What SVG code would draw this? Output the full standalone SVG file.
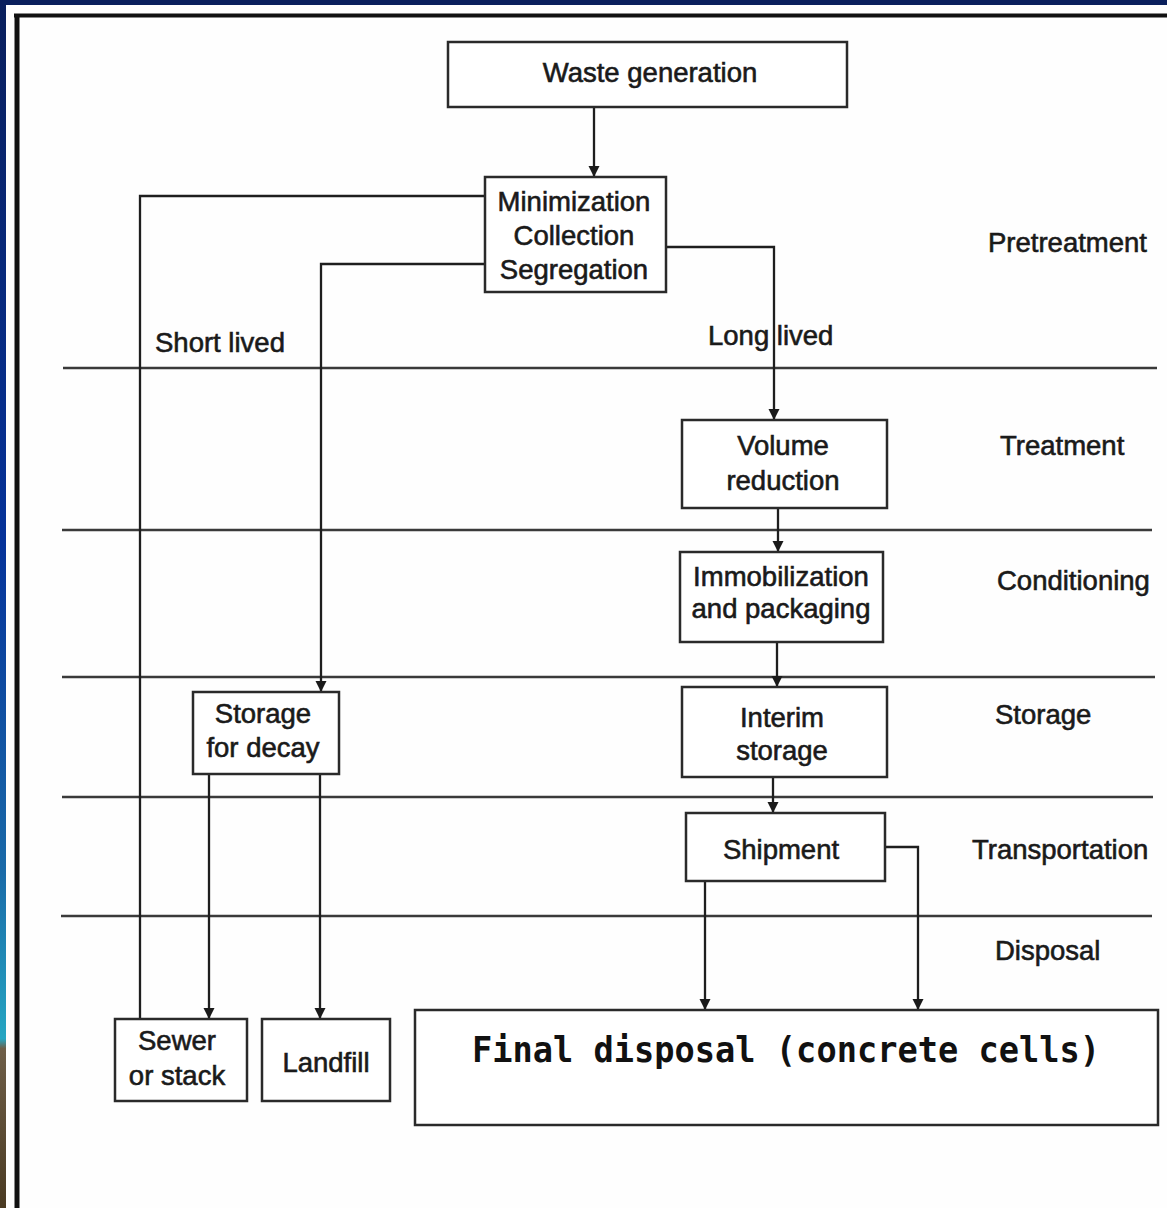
<svg xmlns="http://www.w3.org/2000/svg" width="1167" height="1208" viewBox="0 0 1167 1208">
<defs>
<linearGradient id="strip" x1="0" y1="0" x2="0" y2="1">
<stop offset="0" stop-color="#0a1f5c"/>
<stop offset="0.45" stop-color="#06339a"/>
<stop offset="0.72" stop-color="#1a6aa8"/>
<stop offset="0.86" stop-color="#26a6c2"/>
<stop offset="0.868" stop-color="#6e5e48"/>
<stop offset="1" stop-color="#4a3a22"/>
</linearGradient>
<marker id="ah" markerUnits="userSpaceOnUse" markerWidth="13" markerHeight="13" refX="11" refY="5.5" orient="auto">
<path d="M0,0 L11,5.5 L0,11 z" fill="#1a1a1a"/>
</marker>
<style>
.bx{fill:#fff;stroke:#2a2a2a;stroke-width:2.5}
.t{font-family:"Liberation Sans",Arial,sans-serif;font-size:27.5px;fill:#1a1a1a;stroke:#1a1a1a;stroke-width:0.6}
.c{text-anchor:middle}
.cn{fill:none;stroke:#1e1e1e;stroke-width:2.3}
.dv{stroke:#3a3a3a;stroke-width:2.5}
.fd{font-family:"DejaVu Sans Mono",monospace;font-weight:bold;font-size:35px;fill:#111}
</style>
</defs>
<rect x="0" y="0" width="1167" height="1208" fill="#fefefe"/>
<rect x="0" y="0" width="1167" height="5" fill="#0a1f5c"/>
<rect x="0" y="0" width="6" height="1208" fill="url(#strip)"/>
<g id="frame">
<line x1="14" y1="15.5" x2="1167" y2="15.5" stroke="#111" stroke-width="4"/>
<line x1="17" y1="14" x2="17" y2="1208" stroke="#111" stroke-width="5"/>
</g>
<g id="dividers">
<line class="dv" x1="63" y1="368" x2="1157" y2="368"/>
<line class="dv" x1="62" y1="530" x2="1152" y2="530"/>
<line class="dv" x1="62" y1="677" x2="1155" y2="677"/>
<line class="dv" x1="62" y1="797" x2="1153" y2="797"/>
<line class="dv" x1="61" y1="916" x2="1152" y2="916"/>
</g>
<g id="connectors">
<line class="cn" x1="594" y1="107" x2="594" y2="177" marker-end="url(#ah)"/>
<polyline class="cn" points="485,196 140,196 140,1019"/>
<polyline class="cn" points="485,264 321,264 321,692" marker-end="url(#ah)"/>
<polyline class="cn" points="666,247 774,247 774,420" marker-end="url(#ah)"/>
<line class="cn" x1="778" y1="508" x2="778" y2="552" marker-end="url(#ah)"/>
<line class="cn" x1="777" y1="642" x2="777" y2="687" marker-end="url(#ah)"/>
<line class="cn" x1="773" y1="777" x2="773" y2="813" marker-end="url(#ah)"/>
<line class="cn" x1="705" y1="881" x2="705" y2="1010" marker-end="url(#ah)"/>
<polyline class="cn" points="885,847 918,847 918,1010" marker-end="url(#ah)"/>
<line class="cn" x1="209" y1="774" x2="209" y2="1019" marker-end="url(#ah)"/>
<line class="cn" x1="320" y1="774" x2="320" y2="1019" marker-end="url(#ah)"/>
</g>
<g id="n-waste">
<rect class="bx" x="448" y="42" width="399" height="65"/>
<text class="t c" x="650" y="82">Waste generation</text>
</g>
<g id="n-minimization">
<rect class="bx" x="485" y="177" width="181" height="115"/>
<text class="t c" x="574" y="211">Minimization</text>
<text class="t c" x="574" y="245">Collection</text>
<text class="t c" x="574" y="279">Segregation</text>
</g>
<g id="n-volume">
<rect class="bx" x="682" y="420" width="205" height="88"/>
<text class="t c" x="783" y="455">Volume</text>
<text class="t c" x="783" y="490">reduction</text>
</g>
<g id="n-immob">
<rect class="bx" x="680" y="552" width="203" height="90"/>
<text class="t c" x="781" y="586">Immobilization</text>
<text class="t c" x="781" y="618">and packaging</text>
</g>
<g id="n-storage-decay">
<rect class="bx" x="193" y="692" width="146" height="82"/>
<text class="t c" x="263" y="723">Storage</text>
<text class="t c" x="263" y="757">for decay</text>
</g>
<g id="n-interim">
<rect class="bx" x="682" y="687" width="205" height="90"/>
<text class="t c" x="782" y="727">Interim</text>
<text class="t c" x="782" y="760">storage</text>
</g>
<g id="n-shipment">
<rect class="bx" x="686" y="813" width="199" height="68"/>
<text class="t c" x="781" y="859">Shipment</text>
</g>
<g id="n-sewer">
<rect class="bx" x="115" y="1019" width="132" height="82"/>
<text class="t c" x="177" y="1050">Sewer</text>
<text class="t c" x="177" y="1085">or stack</text>
</g>
<g id="n-landfill">
<rect class="bx" x="262" y="1019" width="128" height="82"/>
<text class="t c" x="326" y="1072">Landfill</text>
</g>
<g id="n-final">
<rect class="bx" x="415" y="1010" width="743" height="115"/>
<text class="fd" x="472" y="1062" textLength="628" lengthAdjust="spacingAndGlyphs">Final disposal (concrete cells)</text>
</g>
<g id="labels">
<text class="t" x="155" y="352">Short lived</text>
<text class="t" x="708" y="345">Long lived</text>
<text class="t" x="988" y="252">Pretreatment</text>
<text class="t" x="1000" y="455">Treatment</text>
<text class="t" x="997" y="590">Conditioning</text>
<text class="t" x="995" y="724">Storage</text>
<text class="t" x="972" y="859">Transportation</text>
<text class="t" x="995" y="960">Disposal</text>
</g>
</svg>
